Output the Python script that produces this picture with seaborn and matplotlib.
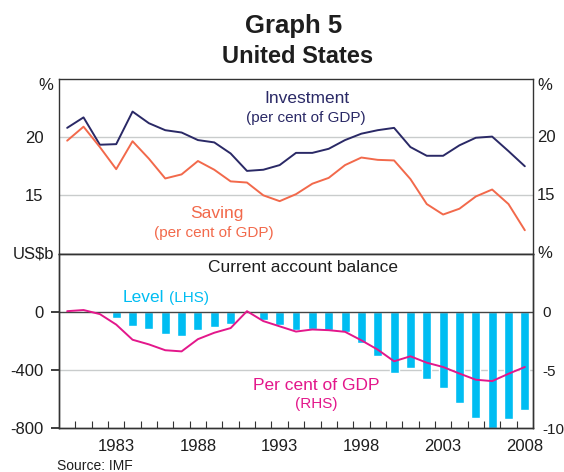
import numpy as np
import pandas as pd
import matplotlib
matplotlib.use("Agg")
import matplotlib.pyplot as plt
import seaborn as sns

# 데이터
years = list(range(1980, 2009))
investment = [20.8, 21.7, 19.35, 19.4, 22.2, 21.2, 20.6, 20.4, 19.75, 19.55,
              18.6, 17.1, 17.2, 17.6, 18.65, 18.65, 19.0, 19.75, 20.3, 20.6,
              20.8, 19.15, 18.4, 18.4, 19.3, 19.95, 20.05, 18.8, 17.5]
saving = [19.7, 20.9, 19.15, 17.25, 19.65, 18.15, 16.45, 16.8, 17.95, 17.2,
          16.2, 16.1, 15.0, 14.5, 15.1, 16.0, 16.5, 17.6, 18.25, 18.05,
          18.0, 16.4, 14.25, 13.35, 13.85, 14.9, 15.5, 14.25, 12.0]
ca_level = [2, 5, -6, -40, -97, -118, -152, -165, -124, -102,
            -84, 3, -56, -90, -122, -118, -122, -138, -214, -303,
            -420, -387, -462, -522, -628, -731, -795, -737, -676]
ca_pct = [0.05, 0.15, -0.2, -1.1, -2.4, -2.8, -3.3, -3.4, -2.35, -1.8,
          -1.4, 0.05, -0.8, -1.25, -1.7, -1.52, -1.58, -1.72, -2.45, -3.25,
          -4.25, -3.82, -4.37, -4.74, -5.3, -5.83, -5.95, -5.32, -4.74]

df = pd.DataFrame({'year': years, 'investment': investment, 'saving': saving,
                   'level': ca_level, 'pct': ca_pct})

C_INV = '#2a2966'
C_SAV = '#f2694b'
C_LVL = '#00bdf2'
C_PCT = '#e3178b'
C_TXT = '#1e1e1e'
C_GRID = '#c9cccc'
TICK_FS = 12

sns.set_theme(style="white")
plt.rcParams['font.family'] = ['Liberation Sans', 'DejaVu Sans']

fig = plt.figure(figsize=(5.64, 4.72), dpi=100)
ax_top = fig.add_axes([0.10461, 0.46292, 0.84043, 0.36970])
ax_bot = fig.add_axes([0.10461, 0.09258, 0.84043, 0.37034])

# 윗 패널: 투자와 저축
ax_top.axhline(15, color=C_GRID, lw=1, zorder=0.5)
ax_top.axhline(20, color=C_GRID, lw=1, zorder=0.5)
sns.lineplot(data=df, x='year', y='investment', color=C_INV, lw=1.4, ax=ax_top)
sns.lineplot(data=df, x='year', y='saving', color=C_SAV, lw=1.4, ax=ax_top)
ax_top.set_xlim(1979.5, 2008.5)
ax_top.set_ylim(10, 25)
ax_top.set_yticks([15, 20])
ax_top.set_yticklabels(['15', '20'])
ax_top.tick_params(axis='x', bottom=False, labelbottom=False)
ax_top.tick_params(axis='y', left=False, right=False, labelleft=True, labelright=False,
                   labelsize=TICK_FS, labelcolor=C_TXT, pad=5)
ax_top.set_xlabel('')
ax_top.set_ylabel('')
for v in (15, 20):
    ax_top.annotate(str(v), xy=(1, v), xycoords=('axes fraction', 'data'),
                    xytext=(3, 0), textcoords='offset points', ha='left', va='center',
                    fontsize=TICK_FS, color=C_TXT)

ax_top.text(1994.65, 23.32, 'Investment', color=C_INV, fontsize=12.5, ha='center', va='center')
ax_top.text(1994.6, 21.65, '(per cent of GDP)', color=C_INV, fontsize=11, ha='center', va='center')
ax_top.text(1989.15, 13.4, 'Saving', color=C_SAV, fontsize=12.5, ha='center', va='center')
ax_top.text(1989.0, 11.8, '(per cent of GDP)', color=C_SAV, fontsize=11, ha='center', va='center')

# 아랫 패널: 경상수지
ax_bot.axhline(-400, color=C_GRID, lw=1, zorder=0.5)
sns.barplot(data=df, x='year', y='level', native_scale=True, width=0.55,
            color=C_LVL, saturation=1, errorbar=None, ax=ax_bot, zorder=1)
ax_bot.axhline(0, color='#444444', lw=1, zorder=2)
ax_bot.set_xlim(1979.5, 2008.5)
ax_bot.set_ylim(-800, 400)
ax_bot.set_yticks([-800, -400, 0])
ax_bot.set_yticklabels(['-800', '-400', '0'])
ax_bot.tick_params(axis='y', left=False, labelsize=TICK_FS, labelcolor=C_TXT, pad=5)
ax_bot.set_xticks([1983, 1988, 1993, 1998, 2003, 2008])
ax_bot.set_xticklabels(['1983', '1988', '1993', '1998', '2003', '2008'])
ax_bot.set_xticks(np.arange(1980.5, 2008, 1), minor=True)
ax_bot.tick_params(axis='x', which='major', length=0, labelsize=TICK_FS, labelcolor=C_TXT, pad=8)
ax_bot.tick_params(axis='x', which='minor', bottom=True, direction='in', length=5,
                   width=0.8, color='#333333')
ax_bot.set_xlabel('')
ax_bot.set_ylabel('')

ax_rhs = ax_bot.twinx()
sns.lineplot(data=df, x='year', y='pct', color=C_PCT, lw=1.4, ax=ax_rhs)
ax_rhs.set_ylim(-10, 5)
ax_rhs.set_yticks([-10, -5, 0])
ax_rhs.set_yticklabels(['-10', '-5', '0'])
ax_rhs.tick_params(axis='y', right=False, labelsize=11, labelcolor=C_TXT, pad=1)
ax_rhs.set_ylabel('')
ax_rhs.set_xlim(1979.5, 2008.5)

ax_bot.text(1994.4, 304, 'Current account balance', color=C_TXT, fontsize=12.5, ha='center', va='center')
ax_bot.text(1984.67, 96, 'Level', color=C_LVL, fontsize=12.5, ha='center', va='center')
ax_bot.text(1987.45, 96, '(LHS)', color=C_LVL, fontsize=11, ha='center', va='center')
ax_bot.text(1995.25, -503, 'Per cent of GDP', color=C_PCT, fontsize=12.5, ha='center', va='center')
ax_bot.text(1995.25, -636, '(RHS)', color=C_PCT, fontsize=11, ha='center', va='center')

for a in (ax_top, ax_bot, ax_rhs):
    for s in a.spines.values():
        s.set_color('#333333')
        s.set_linewidth(1.0)

# 단위 표시
fig.text(53 / 564, 1 - 86 / 472, '%', ha='right', va='center', fontsize=TICK_FS, color=C_TXT)
fig.text(537 / 564, 1 - 86 / 472, '%', ha='left', va='center', fontsize=TICK_FS, color=C_TXT)
fig.text(54 / 564, 1 - 253.5 / 472, 'US$b', ha='right', va='center', fontsize=TICK_FS, color=C_TXT)
fig.text(537 / 564, 1 - 253.5 / 472, '%', ha='left', va='center', fontsize=TICK_FS, color=C_TXT)

# 제목
fig.text(294 / 564, 1 - 33 / 472, 'Graph 5', ha='center', va='baseline',
         fontsize=18.5, fontweight='bold', color=C_TXT)
fig.text(298 / 564, 1 - 63 / 472, 'United States', ha='center', va='baseline',
         fontsize=17, fontweight='bold', color=C_TXT)
fig.text(57 / 564, 1 - 466 / 472, 'Source: IMF', ha='left', va='center', fontsize=10, color=C_TXT)

fig.savefig('out.png', dpi=100)
